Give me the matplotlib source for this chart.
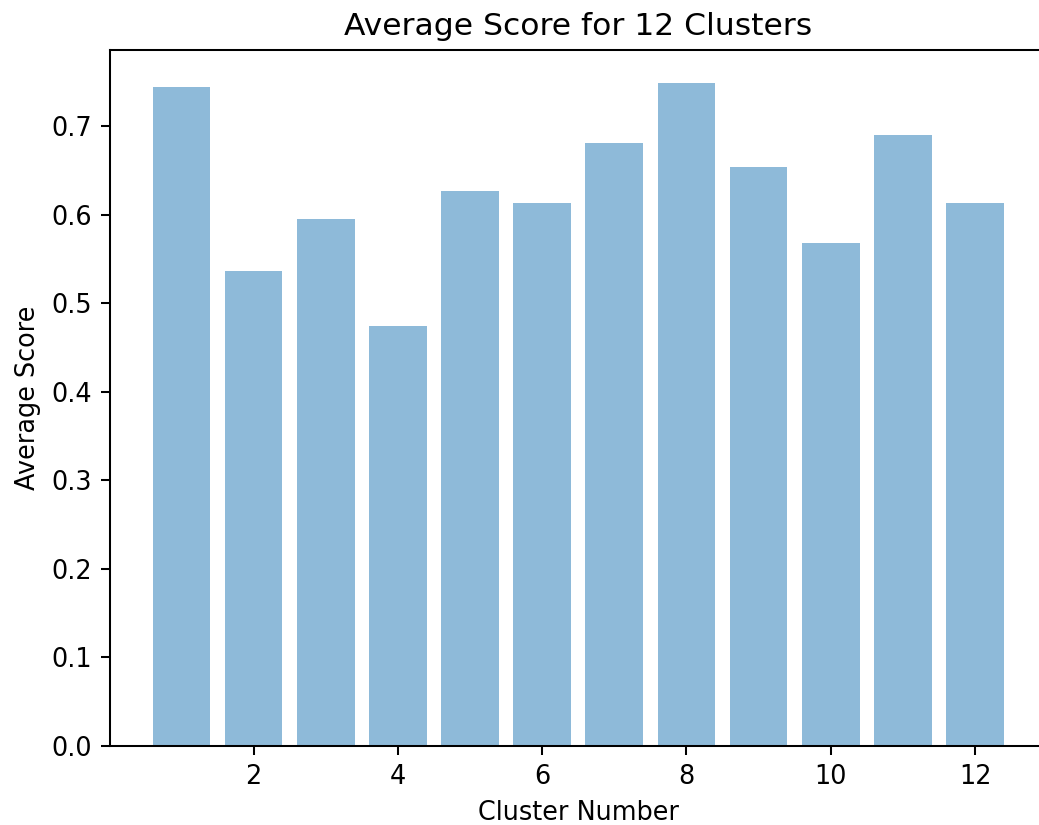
import matplotlib
matplotlib.use("Agg")
import matplotlib.pyplot as plt

clusters = list(range(1, 13))
avg_scores = [0.745, 0.537, 0.595, 0.475, 0.627, 0.614,
              0.681, 0.749, 0.654, 0.568, 0.690, 0.614]

DPI = 184
fig = plt.figure(figsize=(1039 / DPI, 825 / DPI), dpi=DPI)
ax = fig.add_axes([0.1059, 0.0958, 0.9013, 0.8436])

ax.bar(clusters, avg_scores, align="center", alpha=0.5)
ax.set_xlabel("Cluster Number")
ax.set_ylabel("Average Score")
ax.set_title("Average Score for 12 Clusters", fontsize=12.3)

fig.savefig("out.png", dpi=DPI)
